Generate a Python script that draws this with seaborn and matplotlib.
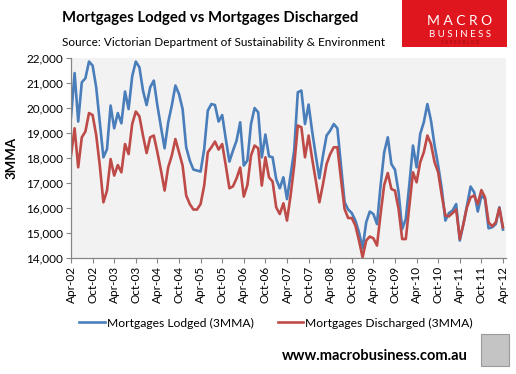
import numpy as np
import pandas as pd
import seaborn as sns
import matplotlib.pyplot as plt
from matplotlib.patches import Rectangle

# 3 month moving averages, monthly from Apr-02 to Apr-12
lodged = [19640, 21410, 19470, 21040, 21200, 21870, 21710, 20840, 19440, 18040,
          18370, 20110, 19200, 19810, 19400, 20670, 19970, 21280, 21870, 21640,
          20710, 20130, 20840, 21110, 20110, 19240, 18400, 19440, 20110, 20910,
          20570, 19970, 18440, 17910, 17550, 17510, 17470, 18370, 19910, 20170,
          20130, 19470, 19730, 18770, 17870, 18310, 18710, 19440, 17710, 17910,
          19370, 20010, 19840, 18040, 18950, 18080, 18040, 17170, 16800, 17240,
          16370, 17330, 18310, 20640, 20710, 19370, 20150, 19070, 18110, 17200,
          18110, 18910, 19110, 19370, 19200, 17710, 16240, 15950, 15810, 15510,
          15040, 14400, 15440, 15870, 15770, 15370, 16910, 18240, 18840, 17770,
          17540, 16640, 15170, 15570, 16970, 18510, 17640, 18970, 19440, 20170,
          19510, 18510, 17710, 16770, 15510, 15810, 15910, 16170, 14710, 15370,
          16110, 16870, 16640, 15870, 16510, 16370, 15200, 15240, 15370, 16040,
          15150]
discharged = [18110, 19200, 17640, 18840, 19070, 19810, 19730, 18930, 17710, 16240,
              16710, 17970, 17310, 17730, 17440, 18570, 18170, 19370, 19870, 19680,
              18910, 18210, 18840, 18910, 18240, 17510, 16710, 17640, 18110, 18770,
              18240, 17710, 16510, 16170, 15950, 15950, 16170, 16910, 18240, 18440,
              18670, 18350, 18570, 17710, 16800, 16880, 17200, 17630, 16470, 16930,
              18110, 18510, 18400, 16910, 18040, 17240, 17070, 16040, 15770, 16200,
              15510, 16510, 17710, 19310, 19240, 18040, 18910, 17970, 17110, 16240,
              16970, 17770, 18170, 18440, 18440, 17170, 15970, 15610, 15610, 15310,
              14710, 14040, 14710, 14870, 14800, 14510, 15770, 16930, 17410, 16770,
              16710, 15970, 14770, 14770, 16110, 17440, 17040, 17840, 18240, 18910,
              18570, 17840, 17440, 16510, 15710, 15680, 15810, 15950, 14770, 15370,
              16040, 16440, 16510, 16170, 16730, 16440, 15440, 15280, 15440, 16010,
              15240]
tick_labels = ['Apr-02', 'Oct-02', 'Apr-03', 'Oct-03', 'Apr-04', 'Oct-04', 'Apr-05',
               'Oct-05', 'Apr-06', 'Oct-06', 'Apr-07', 'Oct-07', 'Apr-08', 'Oct-08',
               'Apr-09', 'Oct-09', 'Apr-10', 'Oct-10', 'Apr-11', 'Oct-11', 'Apr-12']
series_names = ['Mortgages Lodged (3MMA)', 'Mortgages Discharged (3MMA)']

df = pd.DataFrame({'month': np.arange(len(lodged)),
                   series_names[0]: lodged,
                   series_names[1]: discharged})
df_long = df.melt(id_vars='month', var_name='series', value_name='value')

plt.rcParams['font.family'] = ['Lato', 'DejaVu Sans']

fig = plt.figure(figsize=(5.16, 3.74), dpi=100)
ax = fig.add_axes([71 / 516, 1 - 258.3 / 374, 434.5 / 516, 200 / 374])
ax.set_facecolor('#f2f2f2')

sns.lineplot(data=df_long, x='month', y='value', hue='series',
             palette=['#4a7ebb', '#be4b48'], linewidth=1.9, ax=ax, legend=False)

ax.set_xlim(0, 120.7)
ax.set_ylim(14000, 22000)
ax.set_xticks(np.arange(0, 121, 6))
ax.set_xticklabels(tick_labels, rotation=90, fontsize=8.5)
ax.set_yticks(np.arange(14000, 22001, 1000))
ax.set_yticklabels([f'{v:,}' for v in range(14000, 22001, 1000)], fontsize=8.5)
ax.tick_params(axis='both', color='#868686', length=3.5, width=0.8, pad=2)
ax.set_xlabel('')
ax.set_ylabel('')
for s in ['top', 'right']:
    ax.spines[s].set_visible(False)
for s in ['left', 'bottom']:
    ax.spines[s].set_color('#868686')
    ax.spines[s].set_linewidth(0.9)

fig.text(12 / 516, 1 - 158 / 374, '3MMA', rotation=90, ha='center', va='center',
         fontsize=9.5, fontweight='bold')

# headings
fig.text(62 / 516, 1 - 22 / 374, 'Mortgages Lodged vs Mortgages Discharged',
         fontsize=10.7, fontweight='bold', va='baseline')
fig.text(62 / 516, 1 - 45.5 / 374, 'Source: Victorian Department of Sustainability & Environment',
         fontsize=8.5, va='baseline')

# logo block
fig.patches.append(Rectangle((402 / 516, 1 - 47 / 374), 105 / 516, 47 / 374,
                             transform=fig.transFigure, facecolor='#e0161e',
                             edgecolor='none'))
fig.text(460 / 516, 1 - 21 / 374, 'M A C R O', color='white', fontsize=10,
         ha='center', va='center')
fig.text(460 / 516, 1 - 34.5 / 374, 'B U S I N E S S', color='white', fontsize=7,
         ha='center', va='center')
fig.text(460 / 516, 1 - 43 / 374, 'S U P E R B L O G', color='#9a0a10', fontsize=3.5,
         ha='center', va='center')

# legend
handles = ax.get_lines()[:2]
fig.legend(handles, series_names, loc='center', bbox_to_anchor=(276 / 516, 1 - 323 / 374),
           ncol=2, frameon=False, fontsize=8.7, handlelength=2.1, handletextpad=0.15,
           columnspacing=2.0, borderaxespad=0)

# footer
fig.text(468 / 516, 1 - 356 / 374, 'www.macrobusiness.com.au', fontsize=10.5,
         fontweight='bold', ha='right', va='center')
fig.patches.append(Rectangle((481 / 516, 1 - 366 / 374), 28 / 516, 32 / 374,
                             transform=fig.transFigure, facecolor='#c4c4c4',
                             edgecolor='#9a9a9a', linewidth=0.8))

fig.savefig('out.png', dpi=100)
